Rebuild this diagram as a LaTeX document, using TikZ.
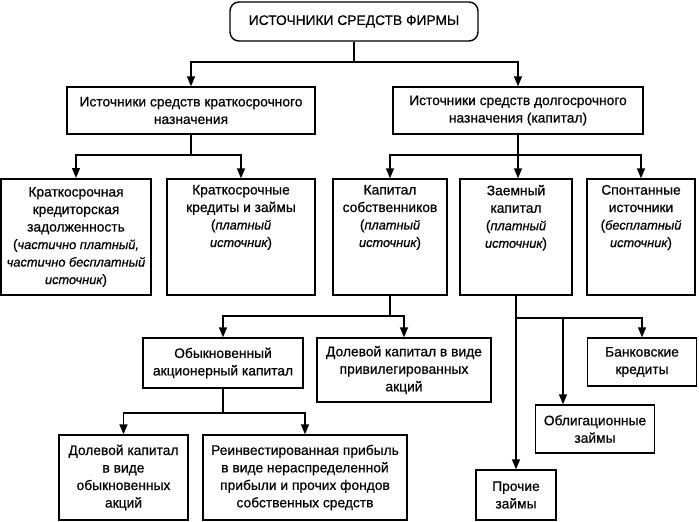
\documentclass[tikz,border=0pt]{standalone}
\usepackage{fontspec}
\setmainfont{Liberation Sans}[UprightFeatures={FakeBold=0.6}, ItalicFeatures={FakeBold=0.6}]
\usetikzlibrary{shapes,arrows,arrows.meta}
\newcommand{\toptxt}[3]{\parbox[c][#1][t]{#2}{\centering #3}}
\newcommand{\note}[1]{{\fontsize{12.8}{17.5}\selectfont\itshape #1}}
\tikzset{%
  block/.style    = {draw, line width=1.4pt, rectangle, align=center,
    inner sep=2pt, font=\fontsize{13.8}{17.5}\selectfont},
  title/.style    = {block, rounded corners=9pt},
  junction/.style = {coordinate}, % branch point
}

\begin{document}
\begin{tikzpicture}[x=1pt, y=-1pt, line width=1.4pt, >={Triangle[length=10pt, width=8pt]}]
  \useasboundingbox (0,0) rectangle (699,522);

  \node at (354,21.5) [title, minimum width=248pt, minimum height=39pt] (top) {ИСТОЧНИКИ СРЕДСТВ ФИРМЫ};
  \node at (191,110.5) [block, minimum width=248pt, minimum height=47pt] (short) {Источники средств краткосрочного\\назначения};
  \node at (518,110.5) [block, minimum width=250pt, minimum height=47pt] (long) {Источники средств долгосрочного\\назначения (капитал)};

  \node at (76,237) [block, line width=2pt, minimum width=150pt, minimum height=116pt] (payable) {Краткосрочная\\кредиторская\\задолженность\\(\note{частично платный,}\\\note{частично бесплатный}\\\note{источник})};
  \node at (241,237) [block, minimum width=148pt, minimum height=116pt] (loans) {\toptxt{104pt}{140pt}{Краткосрочные\\кредиты и займы\\(\note{платный}\\\note{источник})}};
  \node at (390,237) [block, minimum width=114pt, minimum height=116pt] (owners) {\toptxt{104pt}{108pt}{Капитал\\собственников\\(\note{платный}\\\note{источник})}};
  \node at (516,237) [block, minimum width=112pt, minimum height=116pt] (debt) {\toptxt{104pt}{106pt}{Заемный\\капитал\\(\note{платный}\\\note{источник})}};
  \node at (641,237) [block, minimum width=108pt, minimum height=116pt] (spont) {\toptxt{104pt}{102pt}{Спонтанные\\источники\\(\note{бесплатный}\\\note{источник})}};

  \node at (223,363) [block, minimum width=160pt, minimum height=50pt] (common) {Обыкновенный\\акционерный капитал};
  \node at (404,370) [block, minimum width=174pt, minimum height=64pt] (pref) {Долевой капитал в виде\\привилегированных\\акций};
  \node at (123.5,477.5) [block, minimum width=129pt, minimum height=85pt] (shares) {Долевой капитал\\в виде\\обыкновенных\\акций};
  \node at (305,477.5) [block, minimum width=204pt, minimum height=85pt] (retained) {Реинвестированная прибыль\\в виде нераспределенной\\прибыли и прочих фондов\\собственных средств};

  \node at (642,362) [block, minimum width=109pt, minimum height=48pt] (bank) {Банковские\\кредиты};
  \node at (595,429) [block, minimum width=119pt, minimum height=48pt] (bonds) {Облигационные\\займы};
  \node at (516,495) [block, minimum width=80pt, minimum height=50pt] (other) {Прочие\\займы};

  \node at (354,62) [junction] (j0) {};
  \node at (191,155) [junction] (j1) {};
  \node at (518,155) [junction] (j2) {};
  \node at (390,316) [junction] (j3) {};
  \node at (223,413) [junction] (j4) {};
  \node at (516,318) [junction] (j5) {};
  \node at (563,318) [junction] (j6) {};

  \draw (top) -- (j0);
  \draw[->] (j0) -| (short);
  \draw[->] (j0) -| (long);
  \draw (short) -- (j1);
  \draw[->] (j1) -| (payable);
  \draw[->] (j1) -| (loans);
  \draw (long) -- (j2);
  \draw[->] (j2) -| (owners.north);
  \draw[->] (j2) -- (debt.north -| j2);
  \draw[->] (j2) -| (spont);
  \draw (owners) -- (j3);
  \draw[->] (j3) -| (common);
  \draw[->] (j3) -| (pref);
  \draw (common) -- (j4);
  \draw[->] (j4) -| (shares);
  \draw[->] (j4) -| (retained);
  \draw[->] (debt) -- (other);
  \draw[->] (j5) -| (bank);
  \draw[->] (j6) -- (j6 |- bonds.north);
\end{tikzpicture}
\end{document}
